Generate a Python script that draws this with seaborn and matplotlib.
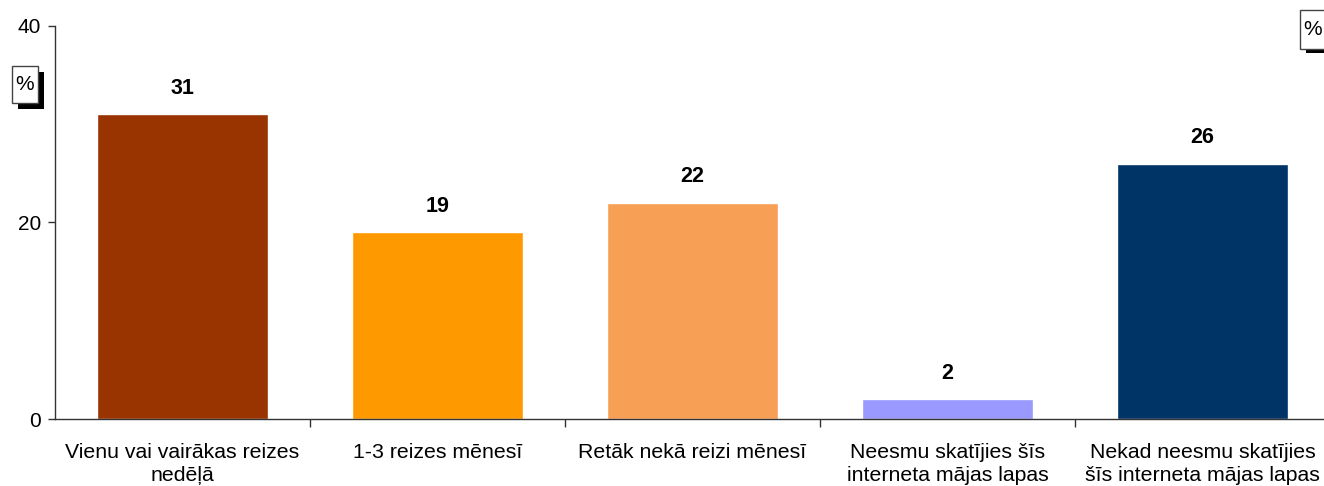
import matplotlib
matplotlib.use("Agg")
import matplotlib.pyplot as plt
import matplotlib.patches as mpatches
from matplotlib.ticker import FixedLocator
import seaborn as sns
import pandas as pd

sns.set_style("white")
plt.rcParams["font.family"] = ["Liberation Sans", "DejaVu Sans"]
plt.rcParams["text.color"] = "black"
plt.rcParams["xtick.color"] = "black"
plt.rcParams["ytick.color"] = "black"

kategorijas = [
    "Vienu vai vairākas reizes\nnedēļā",
    "1-3 reizes mēnesī",
    "Retāk nekā reizi mēnesī",
    "Neesmu skatījies šīs\ninterneta mājas lapas",
    "Nekad neesmu skatījies\nšīs interneta mājas lapas",
]
vertibas = [31, 19, 22, 2, 26]
krasas = ["#993300", "#FF9900", "#F89F56", "#9999FF", "#003366"]

df = pd.DataFrame({"kat": kategorijas, "val": vertibas})

W, H = 1324, 486
fig = plt.figure(figsize=(W / 100, H / 100), dpi=100)
# asis iziet nedaudz aiz attēla labās malas
ax = fig.add_axes([55 / W, 1 - 419 / H, 1275 / W, 393 / H])

sns.barplot(data=df, x="kat", y="val", hue="kat", palette=krasas,
            width=0.667, legend=False, saturation=1, ax=ax)

ax.set_ylim(0, 40)
ax.set_xlim(-0.5, 4.5)
ax.set_yticks([0, 20, 40])
ax.set_xlabel("")
ax.set_ylabel("")
ax.tick_params(axis="y", labelsize=15, length=5, width=1, color="#333333", direction="out", left=True, pad=5)
ax.tick_params(axis="x", which="major", length=0, labelsize=15.3, pad=17)
for lbl in ax.get_xticklabels():
    lbl.set_linespacing(1.3)
ax.xaxis.set_minor_locator(FixedLocator([0.5, 1.5, 2.5, 3.5]))
ax.tick_params(axis="x", which="minor", length=6, width=1, color="#333333", direction="out", bottom=True)
for s in ["top", "right"]:
    ax.spines[s].set_visible(False)
for s in ["left", "bottom"]:
    ax.spines[s].set_color("#333333")
    ax.spines[s].set_linewidth(1)

for i, v in enumerate(vertibas):
    ax.text(i, v + 1.6, str(v), ha="center", va="bottom", fontsize=15.5, fontweight="bold")

def procentu_kaste(x0, y0, x1, y1, dx, dy):
    # ēna un balta kaste ar % zīmi
    sh = mpatches.Rectangle(((x0 + dx) / W, 1 - (y1 + dy) / H), (x1 - x0) / W, (y1 - y0) / H,
                            transform=fig.transFigure, facecolor="black", edgecolor="none")
    bx = mpatches.Rectangle((x0 / W, 1 - y1 / H), (x1 - x0) / W, (y1 - y0) / H,
                            transform=fig.transFigure, facecolor="white", edgecolor="#444444", linewidth=1)
    fig.add_artist(sh)
    fig.add_artist(bx)
    fig.text((x0 + x1) / 2 / W, 1 - (y0 + y1) / 2 / H, "%", ha="center", va="center", fontsize=15)

procentu_kaste(12, 66, 38, 103, 6, 6)
procentu_kaste(1300, 10, 1326, 49, 6, 4)

fig.savefig("out.png", dpi=100)
